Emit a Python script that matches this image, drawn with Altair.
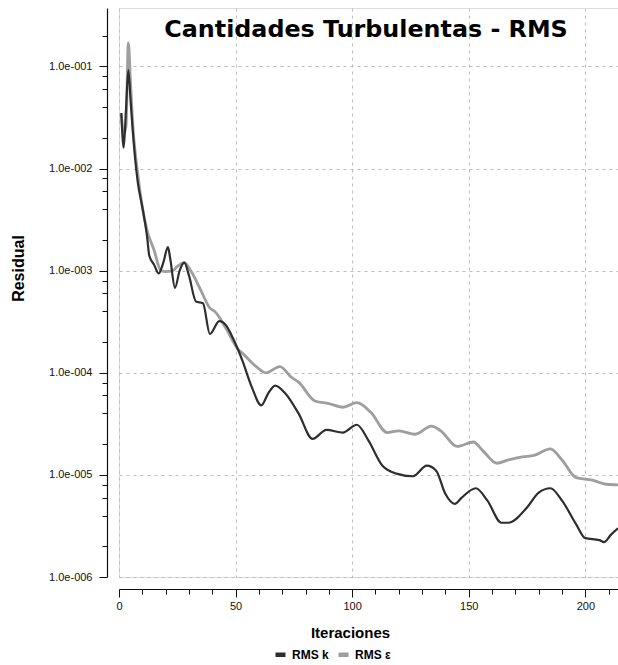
import altair as alt
import pandas as pd

# ---------------- data ----------------
chart_title = "Cantidades Turbulentas - RMS"
series_names = ["RMS k", "RMS ε"]
series_colors = ["#2e2e2e", "#9e9e9e"]

iter_k = [1, 2, 3, 4, 5, 6, 7, 8, 10, 11, 12, 13, 15, 17, 19, 21, 22, 24, 26, 28,
          30, 33, 36, 39, 43, 46, 48, 51, 53, 57, 61, 64, 67, 71, 77, 83, 89, 96,
          102, 107, 113, 119, 126, 132, 136, 140, 144, 147, 153, 158, 164, 167,
          175, 180, 185, 190, 196, 200, 206, 208, 211, 214]
rms_k = [0.035, 0.016, 0.038, 0.092, 0.045, 0.022, 0.012, 0.0075, 0.0042, 0.0031,
         0.0022, 0.0014, 0.00115, 0.00094, 0.0012, 0.0017, 0.0013, 0.00068, 0.0010,
         0.0012, 0.0009, 0.0005, 0.00048, 0.00024, 0.00032, 0.00029, 0.00024,
         0.00017, 0.00013, 7.2e-5, 4.8e-5, 6.3e-5, 7.5e-5, 6.4e-5, 4.0e-5, 2.25e-5,
         2.76e-5, 2.6e-5, 3.1e-5, 2.17e-5, 1.23e-5, 1.03e-5, 9.7e-6, 1.23e-5,
         1.1e-5, 6.5e-6, 5.2e-6, 6.0e-6, 7.4e-6, 5.6e-6, 3.4e-6, 3.4e-6, 4.8e-6,
         6.7e-6, 7.4e-6, 5.6e-6, 3.3e-6, 2.4e-6, 2.3e-6, 2.2e-6, 2.6e-6, 3.0e-6]

iter_eps = [1, 2, 3, 4, 5, 6, 7, 8, 10, 12, 15, 18, 20, 23, 25, 28, 31, 35, 39, 41,
            46, 51, 53, 59, 63, 69, 74, 77, 84, 90, 96, 102, 108, 115, 120, 127,
            134, 138, 145, 152, 156, 162, 167, 173, 178, 185, 190, 196, 203, 209, 214]
rms_eps = [0.034, 0.022, 0.026, 0.17, 0.065, 0.025, 0.014, 0.009, 0.0042, 0.0025,
           0.0016, 0.001, 0.00098, 0.001, 0.0011, 0.0012, 0.00098, 0.00065, 0.00043,
           0.0004, 0.00027, 0.00017, 0.000155, 0.000114, 0.0001, 0.000115, 9.0e-5,
           8.1e-5, 5.3e-5, 5.0e-5, 4.6e-5, 5.1e-5, 4.1e-5, 2.6e-5, 2.7e-5, 2.5e-5,
           3.0e-5, 2.7e-5, 1.9e-5, 2.1e-5, 1.73e-5, 1.3e-5, 1.4e-5, 1.5e-5, 1.55e-5,
           1.8e-5, 1.4e-5, 9.4e-6, 8.9e-6, 8.1e-6, 8.0e-6]

x_domain = [0, 214]
y_domain = [1e-6, 0.374]
x_tick_values = list(range(0, 211, 10))
y_decades = [1e-6, 1e-5, 1e-4, 1e-3, 1e-2, 1e-1]
y_minor_mult = [2, 4, 6, 8]

# ---------------- table ----------------
df = pd.concat([
    pd.DataFrame({"iter": iter_k, "rms": rms_k, "series": series_names[0]}),
    pd.DataFrame({"iter": iter_eps, "rms": rms_eps, "series": series_names[1]}),
], ignore_index=True)

y_tick_values = sorted(set(
    y_decades + [m * d for d in y_decades for m in y_minor_mult if m * d <= y_domain[1]]
))

is_decade = "abs(log(datum.value)/LN10 - round(log(datum.value)/LN10)) < 0.001"
is_x_major = "datum.value % 50 === 0"

FONT = "Liberation Sans"

x_enc = alt.X(
    "iter:Q",
    scale=alt.Scale(domain=x_domain, nice=False, zero=False),
    axis=alt.Axis(
        title="Iteraciones",
        titleFont=FONT, titleFontSize=15, titleFontWeight="bold", titleColor="black",
        titleX=231, titleY=48, titleBaseline="alphabetic",
        values=x_tick_values,
        labelExpr=f"{is_x_major} ? datum.label : ''",
        labelFont=FONT, labelFontSize=11, labelColor="#111", labelPadding=3,
        labelOverlap=False, labelFlush=False,
        tickSize={"condition": {"test": is_x_major, "value": 8}, "value": 5},
        tickColor="#111", domainColor="#111", domainWidth=1.2,
        offset=12,
        grid=True,
        gridOpacity={"condition": {"test": is_x_major, "value": 1}, "value": 0},
        gridColor="#bdbdbd", gridDash=[3, 4], gridWidth=1,
    ),
)

y_enc = alt.Y(
    "rms:Q",
    scale=alt.Scale(type="log", domain=y_domain, nice=False, zero=False),
    axis=alt.Axis(
        title="Residual",
        titleFont=FONT, titleFontSize=16, titleFontWeight="bold", titleColor="black",
        titleX=-84, titleY=260, titleBaseline="alphabetic",
        values=y_tick_values,
        labelExpr=f"{is_decade} ? '1.0e-00' + round(-log(datum.value)/LN10) : ''",
        labelFont=FONT, labelFontSize=11, labelColor="#111", labelPadding=7,
        labelOverlap=False, labelFlush=False,
        tickSize={"condition": {"test": is_decade, "value": 8}, "value": 5},
        tickColor="#111", domainColor="#111", domainWidth=1.2,
        offset=12,
        grid=True,
        gridOpacity={"condition": {"test": is_decade, "value": 1}, "value": 0},
        gridColor="#bdbdbd", gridDash=[3, 4], gridWidth=1,
    ),
)

color_enc = alt.Color(
    "series:N",
    scale=alt.Scale(domain=series_names, range=series_colors),
    legend=alt.Legend(
        orient="none", legendX=154, legendY=639, direction="horizontal",
        title=None, symbolType="stroke", symbolStrokeWidth=4.5, symbolSize=100,
        labelFont=FONT, labelFontWeight="bold", labelFontSize=12, labelColor="black",
        columnPadding=0, labelOffset=4, padding=0,
    ),
)

base = alt.Chart(df)
light = base.transform_filter(alt.datum.series == series_names[1]).mark_line(
    strokeWidth=2.8, interpolate="monotone"
).encode(x=x_enc, y=y_enc, color=color_enc)
dark = base.transform_filter(alt.datum.series == series_names[0]).mark_line(
    strokeWidth=2.2, interpolate="monotone"
).encode(x=x_enc, y=y_enc, color=color_enc)

title_layer = alt.Chart(pd.DataFrame({"t": [chart_title]})).mark_text(
    font="DejaVu Sans", fontSize=23.8, fontWeight="bold", color="black",
    align="center", baseline="alphabetic",
).encode(text="t:N", x=alt.value(247), y=alt.value(29))

chart = alt.layer(light, dark, title_layer).properties(
    width=499,
    height=569,
    autosize=alt.AutoSizeParams(type="none"),
    padding={"left": 119, "top": 8, "right": 0, "bottom": 88},
).configure_view(stroke=None).configure(background="white")

chart.save("out.html", embed_options={"renderer": "svg", "actions": False})
